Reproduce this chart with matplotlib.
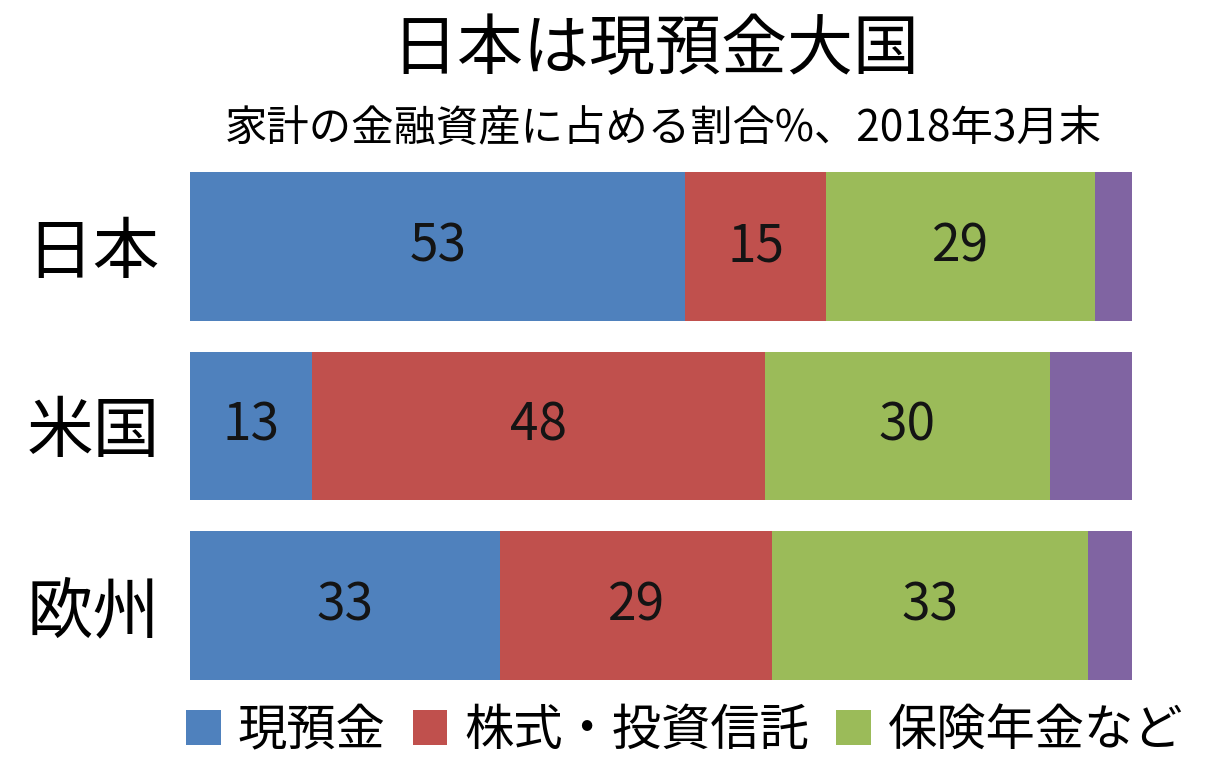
import matplotlib
matplotlib.use("Agg")
import matplotlib.pyplot as plt
from matplotlib.patches import Patch

plt.rcParams['font.family'] = ['Noto Sans CJK JP', 'DejaVu Sans']

# data (share of household financial assets, %)
regions = ["日本", "米国", "欧州"]
seriesNames = ["現預金", "株式・投資信託", "保険年金など", "その他"]
cash = [52.6, 12.9, 32.9]
stocks = [14.9, 48.1, 28.9]
insurance = [28.6, 30.3, 33.5]
other = [3.9, 8.7, 4.7]
cashLabels = ["53", "13", "33"]
stockLabels = ["15", "48", "29"]
insuranceLabels = ["29", "30", "33"]

colors = ["#4F81BD", "#C0504D", "#9BBB59", "#8064A2"]

fig = plt.figure(figsize=(12.22, 7.66), dpi=100)
ax = fig.add_axes([190 / 1222, 86 / 766, 942 / 1222, 508 / 766])

barHeight = 0.828
ypos = list(range(len(regions)))
series = [cash, stocks, insurance, other]
labels = [cashLabels, stockLabels, insuranceLabels, None]

left = [0.0] * len(regions)
for i, vals in enumerate(series):
    bars = ax.barh(ypos, vals, left=left, height=barHeight, color=colors[i], edgecolor="none")
    if labels[i] is not None:
        ax.bar_label(bars, labels=labels[i], label_type="center", fontsize=37, color="#141414")
    left = [l + v for l, v in zip(left, vals)]

ax.set_xlim(0, sum([cash[0], stocks[0], insurance[0], other[0]]))
ax.set_ylim(len(regions) - 1 + barHeight / 2, -barHeight / 2)
ax.set_yticks(ypos)
ax.set_yticklabels(regions, fontsize=48)
ax.tick_params(axis="y", length=0, pad=22)
ax.set_xticks([])
for s in ax.spines.values():
    s.set_visible(False)

fig.text(0.536, 1 - 50 / 766, "日本は現預金大国", fontsize=47.5, ha="center", va="center")
fig.text(0.543, 1 - 129 / 766, "家計の金融資産に占める割合%、2018年3月末", fontsize=30.5, ha="center", va="center")

handles = [Patch(facecolor=colors[i], edgecolor="none") for i in range(3)]
fig.legend(handles, seriesNames[:3], loc="center left", bbox_to_anchor=(186 / 1222, 1 - 731 / 766),
           ncol=3, frameon=False, fontsize=35.5, handlelength=0.7, handleheight=0.7,
           handletextpad=0.35, columnspacing=0.55, borderaxespad=0, borderpad=0)

fig.savefig("out.png", dpi=100)
